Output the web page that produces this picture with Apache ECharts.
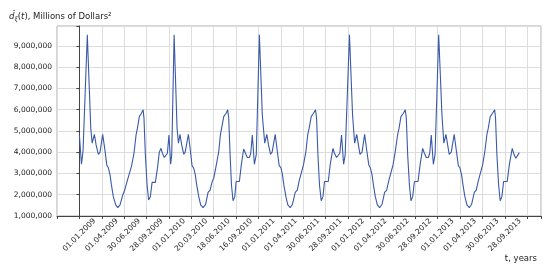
<!DOCTYPE html>
<html>
<head>
<meta charset="utf-8">
<script src="https://cdn.jsdelivr.net/npm/echarts@6/dist/echarts.min.js"></script>
<style>
  html, body { margin: 0; padding: 0; background: #fff; }
  #chart { width: 550px; height: 275px; }
</style>
</head>
<body>
<div id="chart"></div>
<script>
// x = point index (13 points between two date ticks), y = millions of dollars^2
const xLabels = ["01.01.2009", "01.04.2009", "30.06.2009", "28.09.2009", "01.01.2010",
    "20.03.2010", "18.06.2010", "16.09.2010", "01.01.2011", "01.04.2011", "30.06.2011",
    "28.09.2011", "01.01.2012", "01.04.2012", "30.06.2012", "28.09.2012", "01.01.2013",
    "01.04.2013", "30.06.2013", "28.09.2013"];
const tickStep = 13;

const year2009 = [[0,4.81],[1.2,3.43],[2.1,4.03],[4.6,9.52],[6.6,5.13],[7.4,4.42],[8.7,4.84],[9.7,4.34],[11,3.9],[12,4.0],[13.5,4.84],[14.7,4.18],[15.9,3.4],[16.8,3.27],[17.8,2.93],[18.6,2.46],[19.7,1.91],[21.1,1.52],[22.3,1.39],[23.6,1.52],[25.2,1.99],[26.3,2.22],[27.9,2.69],[28.6,2.77],[30.2,3.32],[31.7,3.95],[32.9,4.81],[33.7,5.13],[34.8,5.67],[36,5.83],[37,5.99],[37.5,5.6],[38.3,3.87],[39.3,2.46],[40.2,1.75],[41.2,1.91],[42.2,2.58],[43,2.62],[44.1,2.58],[45.3,3.24],[46.4,4.0],[47.4,4.18],[48.2,3.95],[49.3,3.75],[50.3,3.75],[51.1,3.95],[52,4.81],[53,3.43]];
const year2010 = [[53.6,3.87],[55,9.52],[56.7,5.13],[57.5,4.42],[58.4,4.84],[59.4,4.34],[60.6,3.9],[61.4,4.0],[63.3,4.84],[64.4,4.1],[65.4,3.37],[66.4,3.24],[67.3,2.93],[68.1,2.46],[69.3,1.91],[70.4,1.52],[71.8,1.39],[73.3,1.55],[74.7,2.11],[75.9,2.22],[77.2,2.65],[78,2.77],[79.5,3.4],[80.9,4.03],[81.9,4.84],[82.6,5.13],[83.8,5.67],[85.2,5.83],[86.1,5.99],[86.7,5.6],[87.5,3.87],[88.3,2.46],[89.2,1.72],[90.2,1.91],[91,2.62],[91.7,2.58],[92.9,2.62],[94,3.4],[95.4,4.15],[96.4,3.95],[97.5,3.75],[98.7,3.75],[99.5,3.95],[100.4,4.81],[101.6,3.43],[102.7,3.9]];
const year2011 = [[104.5,9.52],[106.2,5.75],[107.6,4.42],[108.8,4.84],[109.8,4.34],[111,3.9],[111.9,4.0],[113.7,4.84],[114.8,4.1],[116,3.37],[117,3.27],[117.9,2.93],[118.7,2.46],[119.9,1.91],[121,1.52],[122.4,1.39],[123.7,1.55],[125.3,2.11],[126.5,2.22],[127.6,2.65],[128.6,2.74],[130.1,3.4],[131.5,4.03],[132.6,4.84],[133.4,5.13],[134.6,5.67],[135.9,5.83],[137.1,5.99],[137.7,5.6],[138.5,3.87],[139.4,2.46],[140.4,1.72],[141.4,1.91],[142.3,2.62],[143.3,2.58],[144.5,2.62],[145.6,3.4],[147.2,4.18],[148.1,3.95],[149.3,3.75],[150.4,3.75],[151.2,3.95],[152.2,4.81],[153.4,3.43],[154.3,3.87]];
const year2012 = [[156.8,9.52],[158.6,5.75],[159.8,4.42],[161,4.84],[162,4.34],[162.9,3.9],[164.1,4.0],[165.6,4.84],[166.8,4.1],[168,3.4],[168.9,3.27],[169.9,2.93],[170.7,2.46],[171.8,1.91],[173,1.52],[174.3,1.39],[175.7,1.55],[177.2,2.11],[178.4,2.22],[179.6,2.65],[180.5,2.74],[182.1,3.4],[183.4,4.03],[184.8,4.84],[185.6,5.13],[186.7,5.67],[188.1,5.83],[189.2,5.99],[189.8,5.6],[190.6,3.87],[191.6,2.46],[192.5,1.72],[193.5,1.91],[194.5,2.62],[195.4,2.58],[196.6,2.62],[197.8,3.4],[199.3,4.18],[200.3,3.95],[201.4,3.75],[202.6,3.75],[203.4,3.95],[204.3,4.81],[205.5,3.43],[206.5,3.9]];
const year2013 = [[208.6,9.52],[210.5,5.75],[211.6,4.42],[212.8,4.84],[213.8,4.34],[214.7,3.9],[215.9,4.0],[217.6,4.84],[218.8,4.1],[220,3.37],[220.9,3.27],[221.9,2.93],[222.7,2.46],[223.8,1.91],[225,1.52],[226.4,1.39],[227.7,1.55],[229.3,2.11],[230.4,2.22],[231.6,2.65],[232.5,2.74],[234.1,3.4],[235.4,4.03],[236.6,4.84],[237.4,5.13],[238.5,5.67],[239.9,5.83],[241.1,5.99],[241.6,5.6],[242.4,3.87],[243.4,2.46],[244.3,1.72],[245.3,1.91],[246.3,2.62],[247.2,2.58],[248.4,2.62],[249.6,3.4],[251.3,4.18],[252.3,3.9],[253.4,3.71],[254.4,3.75],[255.4,3.98]];

// millions -> dollars^2 units shown on the axis
let series = [].concat(year2009, year2010, year2011, year2012, year2013)
    .map(function (p) { return [p[0], Math.round(p[1] * 1e6)]; });

let chart = echarts.init(document.getElementById("chart"), null, {renderer: "canvas"});
const font = "DejaVu Sans";

chart.setOption({
    animation: false,
    backgroundColor: "#fff",
    textStyle: {fontFamily: font},
    title: [{
        left: 4, top: 6,
        text: "{i|d\u0302}{sub|\u03be}{n|(}{i|t}{n|), Millions of Dollars\u00b2}",
        textStyle: {
            fontWeight: "normal",
            rich: {
                n: {fontFamily: font, fontSize: 8.5, color: "#222", fontWeight: "normal"},
                i: {fontFamily: font, fontSize: 8.5, color: "#222", fontWeight: "normal", fontStyle: "italic"},
                sub: {fontFamily: font, fontSize: 6, color: "#222", fontWeight: "normal", fontStyle: "italic", padding: [5, 0, 0, 0]}
            }
        }
    }, {
        right: 8, bottom: 7,
        text: "t, years",
        textStyle: {fontFamily: font, fontSize: 8.5, fontWeight: "normal", color: "#222"}
    }],
    grid: {left: 57, right: 9, top: 26, bottom: 59, show: true, borderColor: "#aaa", borderWidth: 1},
    xAxis: {
        type: "value",
        min: -tickStep, max: 268, interval: tickStep,
        axisLine: {show: true, onZero: false, lineStyle: {color: "#444", width: 1}},
        axisTick: {show: true, length: 3, lineStyle: {color: "#444"}},
        splitLine: {show: true, lineStyle: {color: "#ddd", width: 1}},
        axisLabel: {
            rotate: 45, align: "center", verticalAlign: "middle", margin: 19,
            fontFamily: font, fontSize: 7.5, color: "#222",
            formatter: function (v) {
                let i = Math.round(v / tickStep);
                if (Math.abs(v - i * tickStep) > 1e-6 || i < 0 || i >= xLabels.length) return "";
                return xLabels[i];
            }
        }
    },
    yAxis: {
        type: "value",
        min: 1000000, max: 9930000, interval: 1000000,
        axisLine: {show: true, lineStyle: {color: "#444", width: 1}},
        axisTick: {show: true, length: 3, lineStyle: {color: "#444"}},
        splitLine: {show: true, lineStyle: {color: "#ddd", width: 1}},
        axisLabel: {
            margin: 5, fontFamily: font, fontSize: 7.5, color: "#222",
            formatter: function (v) {
                if (v % 1000000 !== 0 || v > 9000000) return "";
                return v.toLocaleString("en-US");
            }
        }
    },
    series: [{
        type: "line",
        data: series,
        showSymbol: false,
        lineStyle: {color: "#3a5aa8", width: 1.1},
        itemStyle: {color: "#3a5aa8"}
    }]
});
</script>
</body>
</html>
